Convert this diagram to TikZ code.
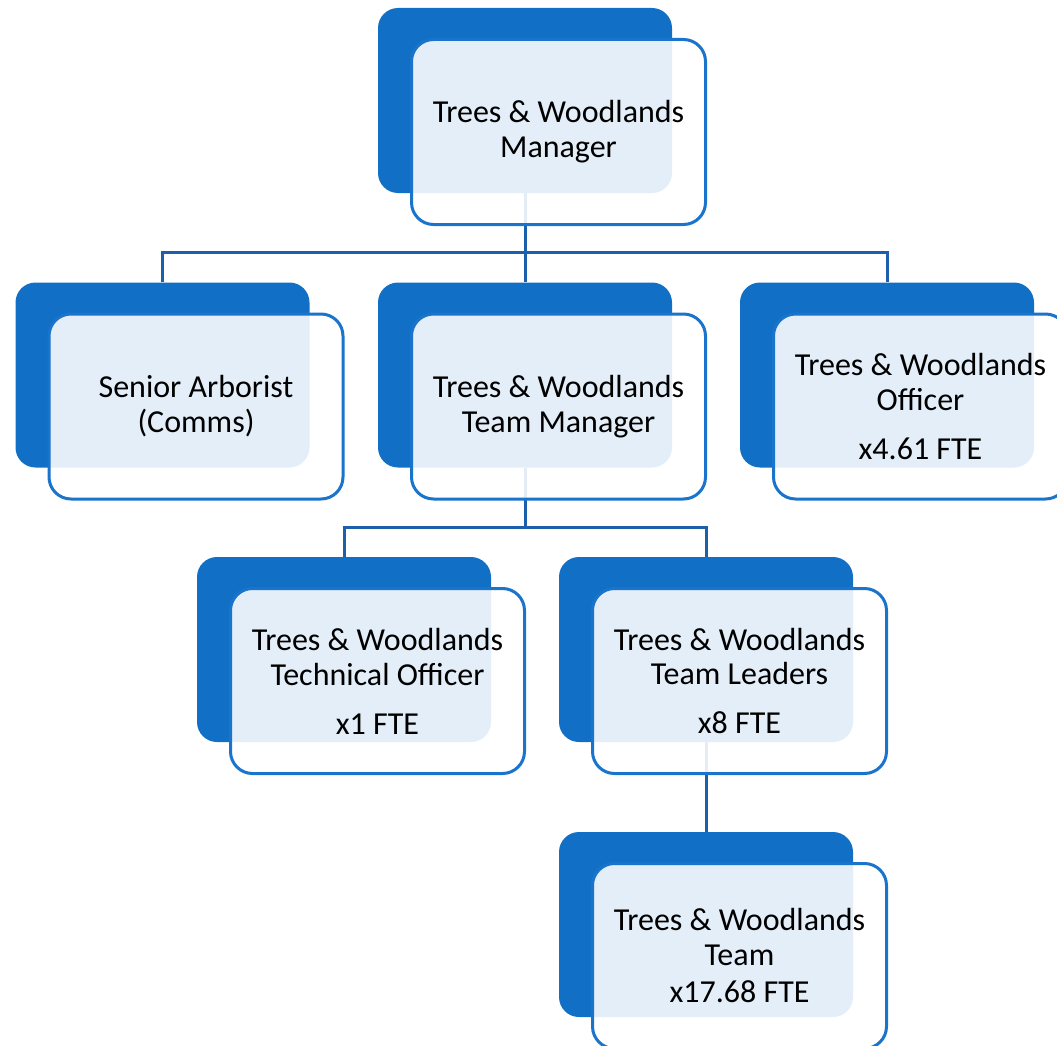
\documentclass[tikz,border=0pt]{standalone}
\usepackage{fontspec}
\setmainfont{Carlito}
\usetikzlibrary{positioning}
\definecolor{darkblue}{HTML}{1170C6}
\definecolor{edgeblue}{HTML}{1B74CC}
\definecolor{linkblue}{HTML}{1C60AC}
\tikzstyle{back} = [fill=darkblue, rounded corners=20pt, minimum width=294pt, minimum height=185pt, inner sep=0pt]
\tikzstyle{card} = [draw=edgeblue, line width=3pt, fill=white, fill opacity=0.887, text opacity=1, rounded corners=22pt, minimum width=294pt, minimum height=185pt, inner sep=0pt, align=center, font=\fontsize{32}{35}\selectfont]
\tikzstyle{link} = [draw=linkblue, line width=3pt]

\begin{document}
\begin{tikzpicture}[x=1pt, y=-1pt]
        \useasboundingbox (0,0) rectangle (1057,1046);
        \clip (0,0) rectangle (1057,1046);
        % dark back panels
        \node[back] (mgrB) at (525,100.5) {};
        \node[back] (arbB) at (162.5,375) {};
        \node[back] (tmB) at (525,375) {};
        \node[back] (offB) at (887,375) {};
        \node[back] (techB) at (344,649.5) {};
        \node[back] (leadB) at (706,649.5) {};
        \node[back] (teamB) at (706,924.5) {};
        % connectors
        \coordinate (bus1) at (525,252);
        \coordinate (bus2) at (525,527);
        \path[link] (mgrB.south) -- (bus1);
        \path[link] (arbB.north) |- (bus1) -| (offB.north);
        \path[link] (bus1) -- (tmB.north);
        \path[link] (tmB.south) -- (bus2);
        \path[link] (techB.north) |- (bus2) -| (leadB.north);
        \path[link] (leadB.south) -- (teamB.north);
        % front cards
        \node[card] (mgr) at ([shift={(33.5,31.5)}]mgrB) {Trees \& Woodlands\\Manager};
        \node[card] (arb) at ([shift={(33.5,31.5)}]arbB) {Senior Arborist\\(Comms)};
        \node[card] (tm) at ([shift={(33.5,31.5)}]tmB) {Trees \& Woodlands\\Team Manager};
        \node[card] (off) at ([shift={(33.5,31.5)}]offB) {Trees \& Woodlands\\Officer\\[14pt]x4.61 FTE};
        \node[card] (tech) at ([shift={(33.5,31.5)}]techB) {Trees \& Woodlands\\Technical Officer\\[14pt]x1 FTE};
        \node[card] (lead) at ([shift={(33.5,31.5)}]leadB) {Trees \& Woodlands\\Team Leaders\\[14pt]x8 FTE};
        \node[card] (team) at ([shift={(33.5,31.5)}]teamB) {Trees \& Woodlands\\Team\\[2pt]x17.68 FTE};
    \end{tikzpicture}
\end{document}
